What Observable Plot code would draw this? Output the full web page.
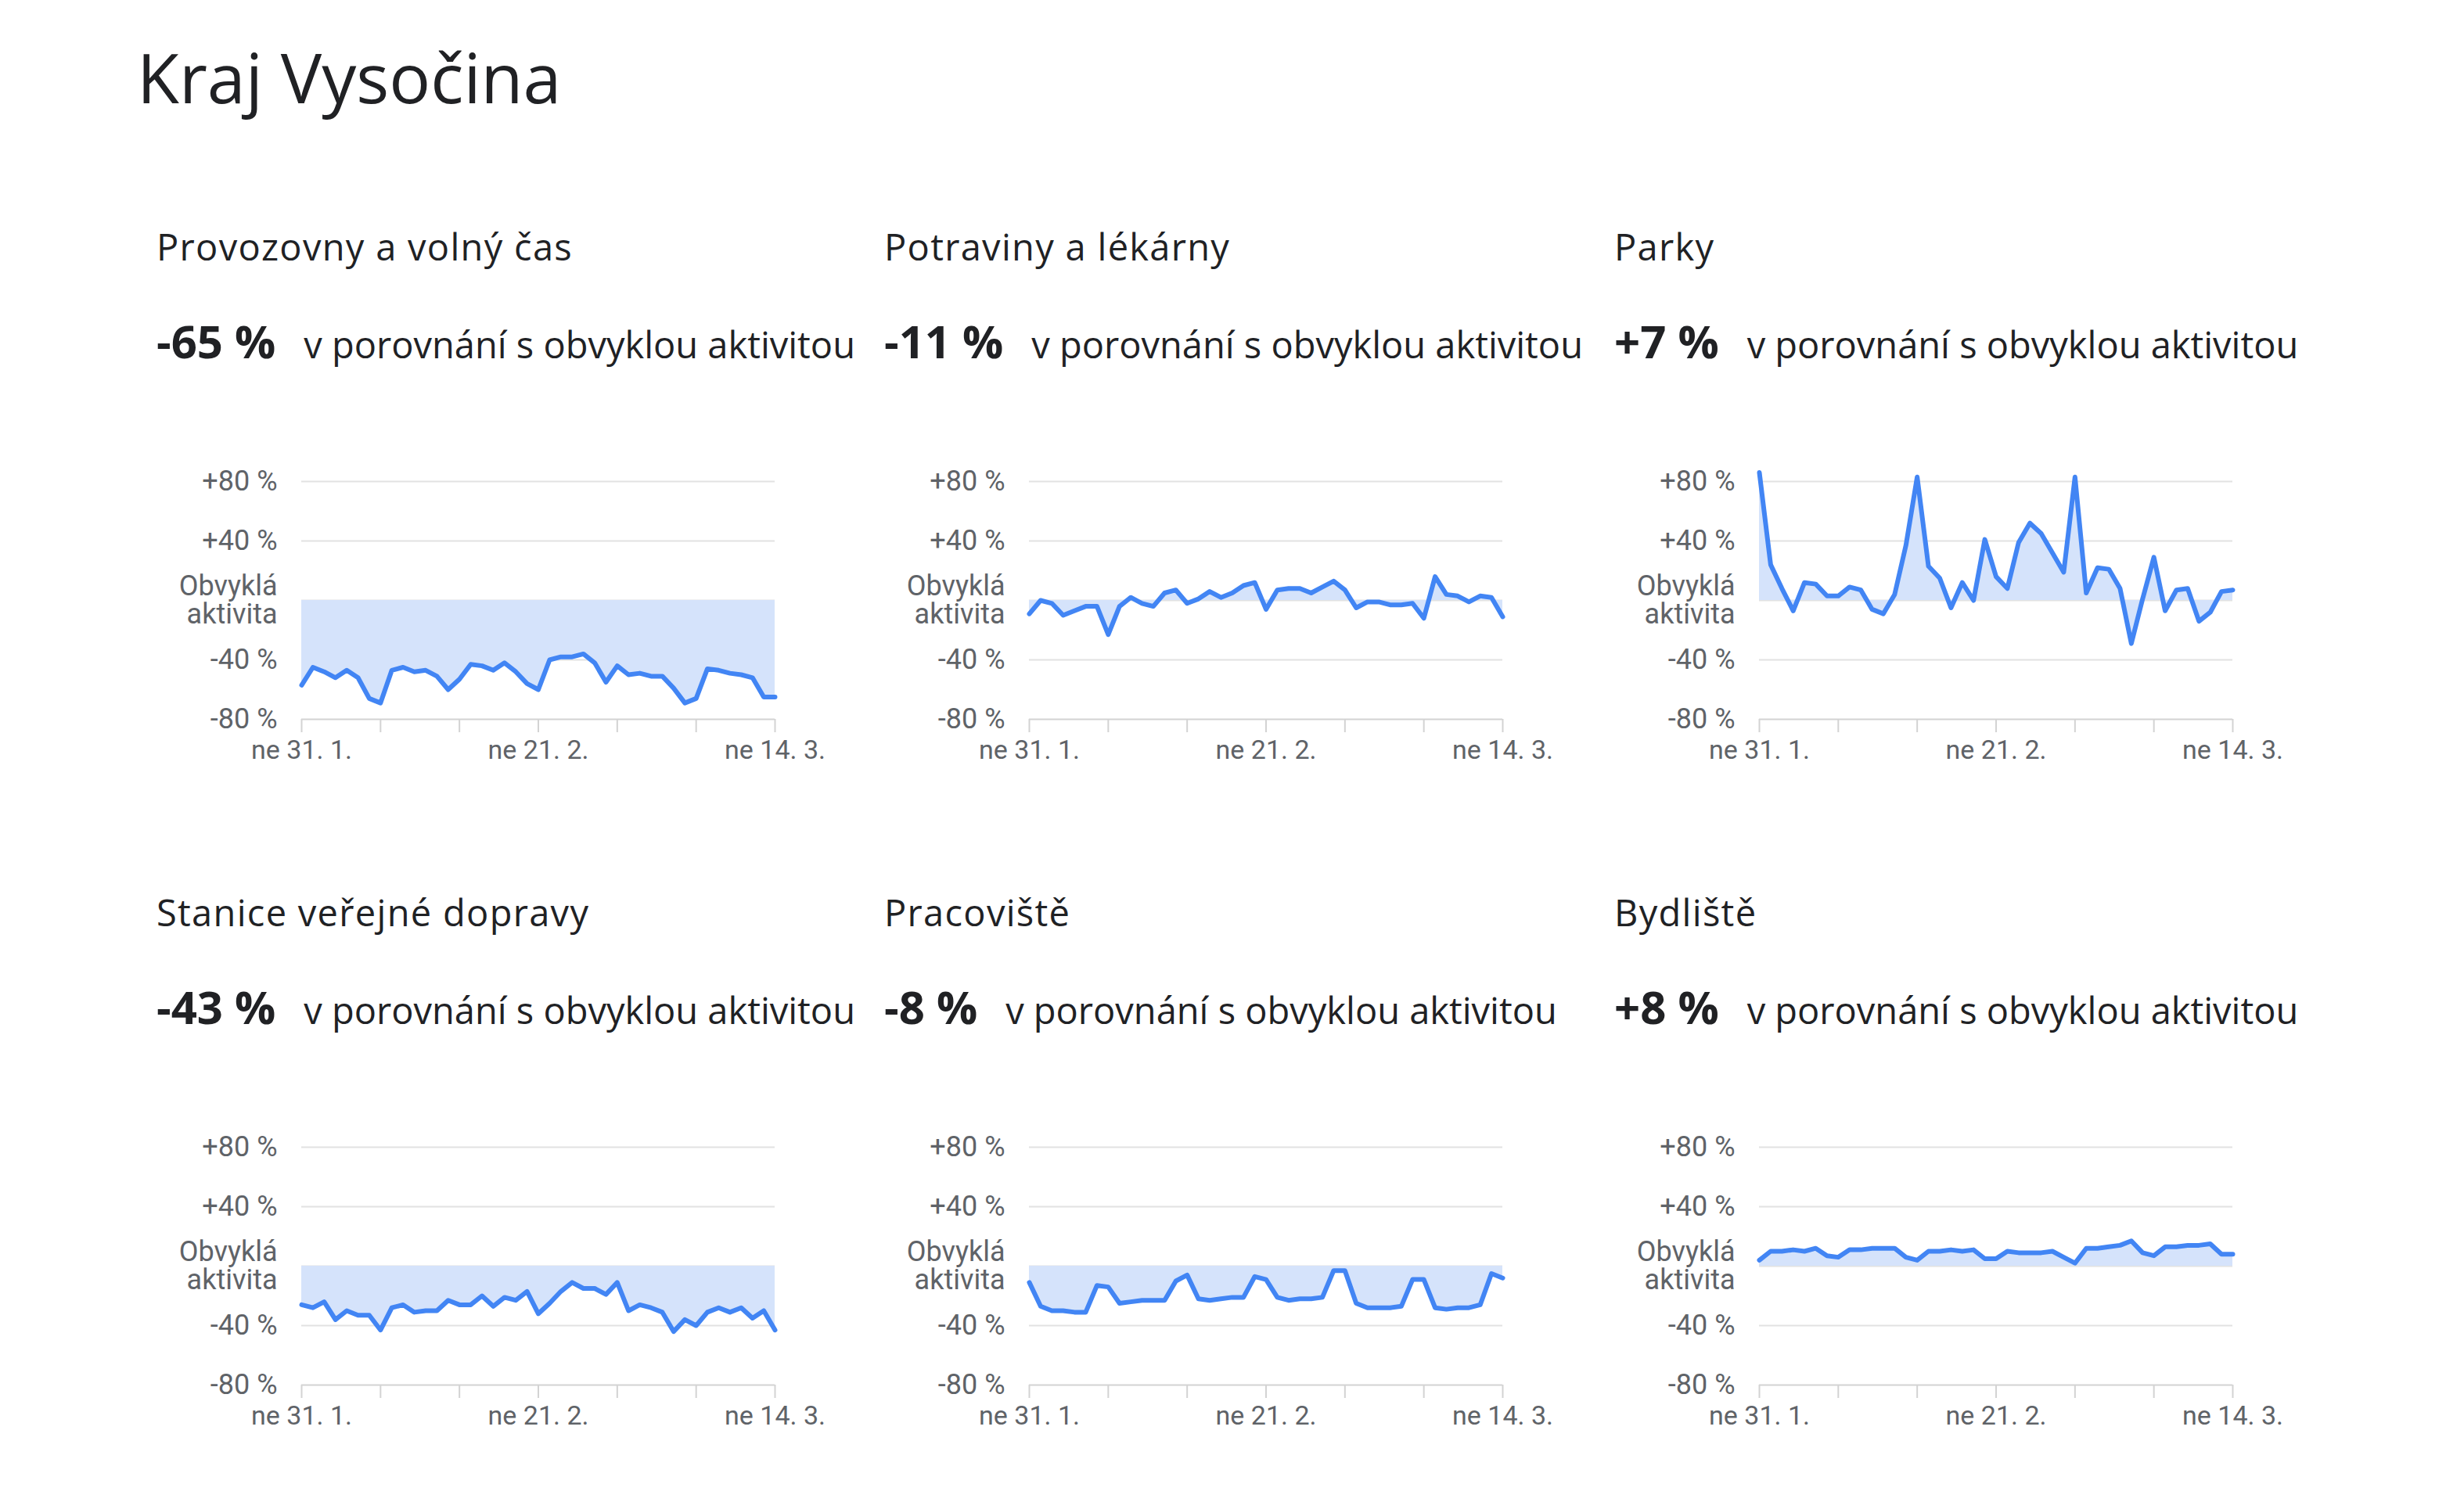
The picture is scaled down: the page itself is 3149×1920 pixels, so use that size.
<!DOCTYPE html>
<html>
<head>
<meta charset="utf-8">
<script src="https://cdn.jsdelivr.net/npm/d3@7"></script>
<script src="https://cdn.jsdelivr.net/npm/@observablehq/plot@0.6"></script>
<style>
  html, body { margin: 0; padding: 0; background: #ffffff; }
  #page { position: relative; width: 3149px; height: 1920px; overflow: hidden; background: #fff; }
  #headings { position: absolute; left: 0; top: 0; }
  .chart { position: absolute; }
  .chart svg { overflow: visible; }
</style>
</head>
<body>
<div id="page"></div>
<script>
// ---------- data ----------
const pageTitle = "Kraj Vysočina";
const categories = ["Provozovny a volný čas", "Potraviny a lékárny", "Parky",
                    "Stanice veřejné dopravy", "Pracoviště", "Bydliště"];
const summaryValues = [-65, -11, 7, -43, -8, 8];
const summaryText = "v porovnání s obvyklou aktivitou";
const startDay = "2021-01-31";
const endDay = "2021-03-14";
const xTickLabels = ["ne 31. 1.", "ne 21. 2.", "ne 14. 3."];
const xTickLabelDates = ["2021-01-31", "2021-02-21", "2021-03-14"];
const yTicks = [-80, -40, 0, 40, 80];
const baselineLabel = "Obvyklá\naktivita";

const provozovny = [-57,-45,-48,-52,-47,-52,-66,-69,-47,-45,-48,-47,-51,-60,-53,-43,-44,-47,-42,-48,-56,-60,-40,-38,-38,-36,-42,-55,-44,-50,-49,-51,-51,-59,-69,-66,-46,-47,-49,-50,-52,-65,-65];
const potraviny  = [-9,0,-2,-10,-7,-4,-4,-23,-4,2,-2,-4,5,7,-2,1,6,2,5,10,12,-6,7,8,8,5,9,13,7,-5,-1,-1,-3,-3,-2,-12,16,4,3,-1,3,2,-11];
const parky      = [86,24,8,-7,12,11,3,3,9,7,-6,-9,4,37,83,23,15,-5,12,0,41,16,8,39,52,45,32,19,83,5,22,21,8,-29,1,29,-7,7,8,-14,-8,6,7];
const stanice    = [-26,-28,-24,-36,-30,-33,-33,-43,-28,-26,-31,-30,-30,-23,-26,-26,-20,-27,-21,-23,-17,-32,-25,-17,-11,-15,-15,-19,-11,-30,-26,-28,-31,-44,-36,-40,-31,-28,-31,-28,-35,-30,-43];
const pracoviste = [-11,-27,-30,-30,-31,-31,-13,-14,-25,-24,-23,-23,-23,-10,-6,-22,-23,-22,-21,-21,-7,-9,-21,-23,-22,-22,-21,-3,-3,-25,-28,-28,-28,-27,-9,-9,-28,-29,-28,-28,-26,-5,-8];
const bydliste   = [4,10,10,11,10,12,7,6,11,11,12,12,12,6,4,10,10,11,10,11,5,5,10,9,9,9,10,6,2,12,12,13,14,17,9,7,13,13,14,14,15,8,8];
const series = [provozovny, potraviny, parky, stanice, pracoviste, bydliste];

// ---------- layout ----------
const W = 3149, H = 1920;
const colLeft = [200, 1130, 2063];
const rowTop = [560, 1411];
const headFont = "'Open Sans', Roboto, sans-serif";
const axisFont = "Roboto, 'Open Sans', sans-serif";
const ink = "#202124";
const grey = "#5f6368";

const page = document.getElementById("page");
const svgNS = "http://www.w3.org/2000/svg";
const head = document.createElementNS(svgNS, "svg");
head.setAttribute("id", "headings");
head.setAttribute("width", W);
head.setAttribute("height", H);
page.appendChild(head);

function addText(x, y, size, weight, str) {
  const t = document.createElementNS(svgNS, "text");
  t.setAttribute("x", x); t.setAttribute("y", y);
  t.setAttribute("font-family", headFont);
  t.setAttribute("font-size", size);
  t.setAttribute("font-weight", weight);
  t.setAttribute("fill", ink);
  t.textContent = str;
  head.appendChild(t);
  return t;
}
addText(175, 132, 88, 400, pageTitle);

const fmtPct = v => (v > 0 ? "+" : "") + v + " %";

const dates = d3.utcDay.range(new Date(startDay), d3.utcDay.offset(new Date(endDay), 1));
const sundays = d3.utcSunday.range(new Date(startDay), d3.utcDay.offset(new Date(endDay), 1));
const labelMap = new Map(xTickLabelDates.map((d, i) => [+new Date(d), xTickLabels[i]]));

categories.forEach((cat, k) => {
  const col = k % 3, row = Math.floor(k / 3);
  const x0 = colLeft[col], top = rowTop[row];
  const dyRow = row * 851;

  // titles
  const tt = addText(x0, 333 + dyRow, 47, 400, cat);
  tt.setAttribute("letter-spacing", "1.3");
  const vt = document.createElementNS(svgNS, "text");
  vt.setAttribute("x", x0); vt.setAttribute("y", 458 + dyRow);
  vt.setAttribute("font-family", headFont);
  vt.setAttribute("fill", ink);
  const s1 = document.createElementNS(svgNS, "tspan");
  s1.setAttribute("font-size", 58); s1.setAttribute("font-weight", 700);
  s1.textContent = fmtPct(summaryValues[k]);
  const s2 = document.createElementNS(svgNS, "tspan");
  s2.setAttribute("font-size", 47); s2.setAttribute("dx", 36);
  s2.textContent = summaryText;
  vt.appendChild(s1); vt.appendChild(s2);
  head.appendChild(vt);

  // chart
  const data = dates.map((date, i) => ({date, value: series[k][i]}));
  const chart = Plot.plot({
    width: 870,
    height: 429,
    marginLeft: 185,
    marginRight: 80,
    marginTop: 55,
    marginBottom: 70,
    style: {background: "transparent", fontFamily: axisFont, fontSize: "36px", color: grey, overflow: "visible"},
    x: {type: "utc", domain: [dates[0], dates[dates.length - 1]], label: null},
    y: {domain: [-80, 80], label: null},
    marks: [
      Plot.ruleY([80, 40, 0, -40], {stroke: "#e2e2e2", strokeWidth: 2}),
      Plot.areaY(data, {x: "date", y1: 0, y2: "value", fill: "#d5e3fb"}),
      Plot.ruleY([-80], {stroke: "#d3d3d3", strokeWidth: 2}),
      Plot.axisX({
        ticks: sundays, tickSize: 17, tickPadding: 9,
        tickFormat: d => labelMap.get(+d) || "",
        stroke: "#d3d3d3", strokeWidth: 2, fill: grey,
        fontSize: 34, fontFamily: axisFont, label: null
      }),
      Plot.axisY({
        ticks: yTicks, tickSize: 0, tickPadding: 31,
        tickFormat: d => d === 0 ? baselineLabel : fmtPct(d),
        fill: grey, fontSize: 36, fontFamily: axisFont, lineHeight: 1, label: null
      }),
      Plot.lineY(data, {x: "date", y: "value", stroke: "#4285f4", strokeWidth: 6, strokeLinejoin: "round", strokeLinecap: "round"})
    ]
  });
  const holder = document.createElement("div");
  holder.className = "chart";
  holder.style.left = x0 + "px";
  holder.style.top = top + "px";
  holder.appendChild(chart);
  page.appendChild(holder);
});
</script>
</body>
</html>
